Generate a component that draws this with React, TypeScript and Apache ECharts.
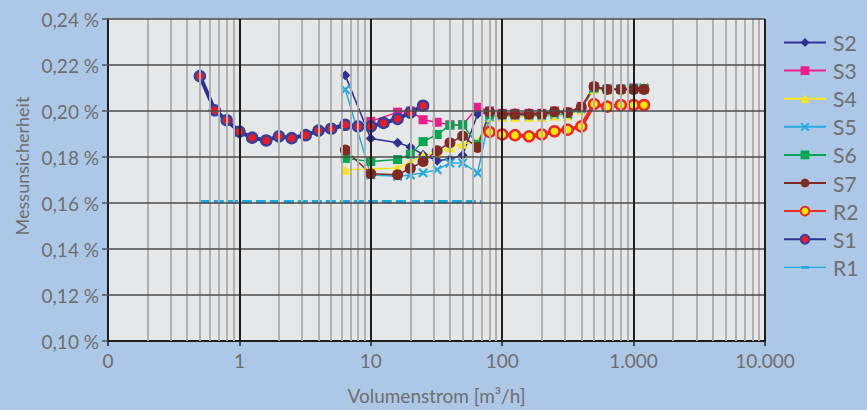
import React, { useEffect, useRef } from "react";
import * as echarts from "echarts";

// ---------- data ----------
const S1_X = [0.5, 0.65, 0.8, 1, 1.25, 1.6, 2, 2.5, 3.2, 4, 5, 6.4, 8, 10, 12.5, 16, 20, 25];
const S1_Y = [0.2152, 0.2003, 0.196, 0.191, 0.1884, 0.1872, 0.189, 0.1882, 0.1895, 0.1915, 0.1923, 0.194, 0.1933, 0.1933, 0.1948, 0.1966, 0.1993, 0.2023];

const MID_X = [6.4, 10, 16, 20, 25, 32, 40, 50, 65];
const HIGH_X = [80, 100, 125, 160, 200, 250, 315, 400, 500, 630, 800, 1000, 1200];

const S2_Y = [0.2155, 0.188, 0.1862, 0.1844, 0.181, 0.1784, 0.1791, 0.1808, 0.1987,
  0.1995, 0.199, 0.199, 0.199, 0.199, 0.1995, 0.1995, 0.2015, 0.2105, 0.2095, 0.2095, 0.21, 0.21];
const S3_X = [10, 16, 20, 25, 32, 40, 50, 65];
const S3_Y = [0.1955, 0.1995, 0.2, 0.1962, 0.1951, 0.194, 0.194, 0.2016,
  0.2, 0.199, 0.199, 0.199, 0.199, 0.2, 0.1995, 0.202, 0.2105, 0.2095, 0.2095, 0.21, 0.2095];
const S4_Y = [0.1745, 0.1748, 0.1752, 0.1778, 0.1807, 0.182, 0.1842, 0.1858, 0.1865,
  0.1975, 0.1975, 0.1975, 0.1975, 0.1975, 0.198, 0.198, 0.2005, 0.2095, 0.2095, 0.2095, 0.2105, 0.2105];
const S5_Y = [0.2093, 0.1722, 0.1716, 0.1722, 0.1731, 0.1745, 0.1774, 0.1774, 0.173,
  0.1975, 0.198, 0.198, 0.198, 0.198, 0.1985, 0.1985, 0.201, 0.21, 0.2095, 0.2095, 0.21, 0.21];
const S6_Y = [0.1794, 0.178, 0.1789, 0.1812, 0.1867, 0.1898, 0.1938, 0.194, 0.1855,
  0.1985, 0.1985, 0.1985, 0.1985, 0.1985, 0.1995, 0.199, 0.2015, 0.21, 0.2095, 0.2095, 0.2095, 0.2095];
const S7_Y = [0.183, 0.1727, 0.1723, 0.1751, 0.178, 0.1827, 0.1862, 0.1891, 0.1841,
  0.1997, 0.1986, 0.1986, 0.1986, 0.1986, 0.1997, 0.1993, 0.2016, 0.2107, 0.2093, 0.2093, 0.2094, 0.2094];
const R2_Y = [0.1909, 0.1898, 0.1895, 0.189, 0.1898, 0.1912, 0.1919, 0.1933, 0.203, 0.2019, 0.2026, 0.2026, 0.2026];
const R1_X = [0.5, 70];
const R1_Y = [0.1605, 0.1605];

const X_TICK_VALUES = [0.1, 1, 10, 100, 1000, 10000];
const X_TICK_LABELS = ["0", "1", "10", "100", "1.000", "10.000"];
const Y_TICKS = [0.1, 0.12, 0.14, 0.16, 0.18, 0.2, 0.22, 0.24];
const LEGEND_ORDER = ["S2", "S3", "S4", "S5", "S6", "S7", "R2", "S1", "R1"];

const zip = (xs: number[], ys: number[]) => xs.map((x, i) => [x, ys[i]]);

const FONT = "Lato";
const TXT = "#6e6e6e";
const X_SHAPE = "path://M0,1.6L1.6,0L5,3.4L8.4,0L10,1.6L6.6,5L10,8.4L8.4,10L5,6.6L1.6,10L0,8.4L3.4,5Z";
const R1_ICON = "path://M0,4.4H42V5.6H0Z M17,3.6H25V6.4H17Z";

export default function App() {
  const ref = useRef<HTMLDivElement>(null);
  useEffect(() => {
    if (!ref.current) return;
    const chart = echarts.init(ref.current, undefined, { renderer: "svg" });

    const minorX: number[] = [];
    for (const d of X_TICK_VALUES.slice(0, -1)) for (let k = 2; k <= 9; k++) minorX.push(d * k);

    const gridLines: any[] = [
      ...minorX.map((v) => ({ xAxis: v, lineStyle: { color: "#b0b0b0", width: 2, type: "solid" } })),
      ...Y_TICKS.slice(1).map((v) => ({ yAxis: v, lineStyle: { color: "#4d4d4d", width: 1.5, type: "solid" } })),
      ...X_TICK_VALUES.slice(1).map((v) => ({ xAxis: v, lineStyle: { color: "#1e1e1e", width: 2, type: "solid" } })),
    ];

    const mid = [...MID_X, ...HIGH_X];
    const s3x = [...S3_X, ...HIGH_X];

    const line = (name: string, data: number[][], color: string, symbol: string, size: number, extra: any = {}) => ({
      name,
      type: "line",
      data,
      symbol,
      symbolSize: size,
      showSymbol: true,
      z: 3,
      lineStyle: { color, width: 1.5 },
      itemStyle: { color },
      emphasis: { disabled: true },
      ...extra,
    });

    chart.setOption({
      animation: false,
      backgroundColor: "#adc8e6",
      grid: { left: 108, right: 102, top: 19, bottom: 63, show: true, backgroundColor: "#e6e7e8", borderWidth: 0 },
      xAxis: {
        type: "log",
        logBase: 10,
        min: 0.1,
        max: 10000,
        name: "Volumenstrom [m³/h]",
        nameLocation: "middle",
        nameGap: 45,
        nameTextStyle: { color: TXT, fontFamily: FONT, fontSize: 19 },
        axisLine: { show: true, lineStyle: { color: "#1e1e1e", width: 2 } },
        axisTick: { show: true, length: 5, lineStyle: { color: "#1e1e1e", width: 1.5 } },
        axisLabel: {
          color: TXT,
          fontFamily: FONT,
          fontSize: 19,
          margin: 10,
          formatter: (v: number) => {
            const i = X_TICK_VALUES.findIndex((t) => Math.abs(Math.log10(t) - Math.log10(v)) < 1e-6);
            return i >= 0 ? X_TICK_LABELS[i] : "";
          },
        },
        splitLine: { show: false },
      },
      yAxis: {
        type: "value",
        min: 0.1,
        max: 0.24,
        interval: 0.02,
        axisLine: { show: true, lineStyle: { color: "#1e1e1e", width: 2 } },
        axisTick: { show: true, length: 6, lineStyle: { color: "#555", width: 1.5 } },
        axisLabel: {
          color: TXT,
          fontFamily: FONT,
          fontSize: 19,
          margin: 9,
          formatter: (v: number) => v.toFixed(2).replace(".", ",") + " %",
        },
        splitLine: { show: false },
      },
      legend: {
        orient: "vertical",
        left: 778,
        top: 27,
        itemWidth: 42,
        itemHeight: 11,
        itemGap: 7.1,
        data: LEGEND_ORDER.map((n) => (n === "R1" ? { name: n, icon: R1_ICON } : { name: n })),
        selectedMode: false,
        textStyle: { color: TXT, fontFamily: FONT, fontSize: 21, lineHeight: 21, padding: [0, 0, 0, 2] },
      },
      graphic: [
        {
          type: "text",
          x: 22,
          y: 166,
          rotation: Math.PI / 2,
          style: {
            text: "Messunsicherheit",
            fill: TXT,
            font: `18px ${FONT}`,
            textAlign: "center",
            textVerticalAlign: "middle",
          },
        },
      ],
      series: [
        {
          name: "__grid",
          type: "line",
          data: [[0.1, 0.1]],
          showSymbol: false,
          symbol: "none",
          silent: true,
          z: 1,
          lineStyle: { width: 0 },
          markLine: {
            silent: true,
            symbol: ["none", "none"],
            label: { show: false },
            emphasis: { disabled: true },
            animation: false,
            data: gridLines,
          },
        },
        line("S2", zip(mid, S2_Y), "#2e3192", "diamond", 10),
        line("S3", zip(s3x, S3_Y), "#ec1e8c", "rect", 9),
        line("S4", zip(mid, S4_Y), "#f7e61a", "triangle", 10),
        line("S5", zip(mid, S5_Y), "#27aae1", X_SHAPE, 10),
        line("S6", zip(mid, S6_Y), "#00a651", "rect", 9),
        line("S7", zip(mid, S7_Y), "#7f2a22", "circle", 11),
        line("R2", zip(HIGH_X, R2_Y), "#ee2a24", "circle", 10, {
          lineStyle: { color: "#ee2a24", width: 4 },
          itemStyle: { color: "#ffe800", borderColor: "#ee2a24", borderWidth: 2.5 },
        }),
        line("S1", zip(S1_X, S1_Y), "#2e3192", "circle", 10, {
          lineStyle: { color: "#2e3192", width: 4 },
          itemStyle: { color: "#ed1c24", borderColor: "#3b3f9c", borderWidth: 2.5 },
        }),
        line("R1", zip(R1_X, R1_Y), "#1aa7e0", "none", 0, {
          showSymbol: false,
          lineStyle: { color: "#1ba9e1", width: 3.5, type: [10, 4] },
          itemStyle: { color: "#1ba9e1" },
        }),
      ],
    });
    return () => chart.dispose();
  }, []);
  return <div ref={ref} style={{ position: "fixed", left: 0, top: 0, width: 867, height: 410 }} />;
}
